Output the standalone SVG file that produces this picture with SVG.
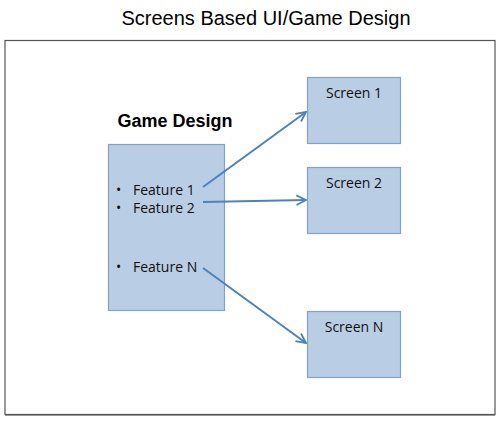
<svg xmlns="http://www.w3.org/2000/svg" width="500" height="421" viewBox="0 0 500 421">
<style>
.title{font-family:"Liberation Sans",Arial,sans-serif;font-size:20px;fill:#000}
.head{font-family:"Liberation Sans",Arial,sans-serif;font-size:18px;font-weight:bold;fill:#000}
.lbl{font-family:"Open Sans","Noto Sans",sans-serif;font-size:14px;fill:#111}
.box{fill:#B9CDE5;stroke:#7EA3CF;stroke-width:1.2}
.conn{stroke:#4F81BD;stroke-width:2;fill:none}
</style>
<defs>
<marker id="arr" viewBox="0 0 10 10" refX="9" refY="5" markerWidth="6" markerHeight="6" orient="auto" markerUnits="strokeWidth">
<path d="M1,1 L9,5 L1,9" fill="none" stroke="#4F81BD" stroke-width="1.5"/>
</marker>
</defs>
<rect width="500" height="421" fill="#fff"/>
<text class="title" x="266" y="25" text-anchor="middle">Screens Based UI/Game Design</text>
<rect x="5" y="40.5" width="490" height="374" fill="#fff" stroke="#555" stroke-width="1.2"/>
<line x1="5" y1="415.5" x2="495" y2="415.5" stroke="#999" stroke-width="1"/>
<g id="game-design">
<text class="head" x="175" y="127" text-anchor="middle">Game Design</text>
<rect class="box" x="108.5" y="144.5" width="116" height="166"/>
<text class="lbl" x="116" y="195">•</text>
<text class="lbl" x="133" y="195">Feature 1</text>
<text class="lbl" x="116" y="213">•</text>
<text class="lbl" x="133" y="213">Feature 2</text>
<text class="lbl" x="116" y="272">•</text>
<text class="lbl" x="133" y="272">Feature N</text>
</g>
<g id="screen-1">
<rect class="box" x="307.5" y="77.5" width="93" height="66"/>
<text class="lbl" x="354" y="98" text-anchor="middle">Screen 1</text>
</g>
<g id="screen-2">
<rect class="box" x="307.5" y="167.5" width="93" height="66"/>
<text class="lbl" x="354" y="188" text-anchor="middle">Screen 2</text>
</g>
<g id="screen-n">
<rect class="box" x="307.5" y="311.5" width="93" height="66"/>
<text class="lbl" x="354" y="332" text-anchor="middle">Screen N</text>
</g>
<g id="connectors">
<line class="conn" x1="203" y1="187" x2="306" y2="112" marker-end="url(#arr)"/>
<line class="conn" x1="203" y1="202" x2="306" y2="200" marker-end="url(#arr)"/>
<line class="conn" x1="203" y1="268" x2="306" y2="343" marker-end="url(#arr)"/>
</g>
</svg>
